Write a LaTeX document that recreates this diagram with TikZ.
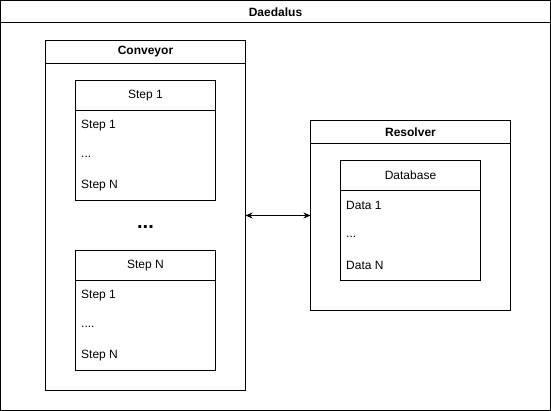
\documentclass[tikz,border=0pt]{standalone}
\usepackage{fontspec}
\setmainfont{Liberation Sans}
\usetikzlibrary{arrows.meta}
\begin{document}
\begin{tikzpicture}[x=1pt,y=-1pt,
  box/.style={draw, line width=1pt, rectangle, anchor=north west, inner sep=0pt, outer sep=0pt},
  sep/.style={line width=1pt},
  title/.style={font=\bfseries\fontsize{12}{14}\selectfont},
  head/.style={font=\fontsize{12}{14}\selectfont},
  item/.style={font=\fontsize{12}{14}\selectfont, anchor=west, inner sep=0pt},
  link/.style={line width=1pt, {Stealth[length=7pt,width=6pt]}-{Stealth[length=7pt,width=6pt]}}]
\useasboundingbox (0,0) rectangle (551,411);
% outer
\node[box, minimum width=550pt, minimum height=410pt] (daedalus) at (0.5,0.5) {};
\draw[sep] (0.5,23) coordinate (dl) -- (550.5,23) coordinate (dr);
\node[title] (tdaedalus) at (275.5,12) {Daedalus};
% conveyor
\node[box, minimum width=200pt, minimum height=350pt] (conveyor) at (45.5,40.5) {};
\draw[sep] (45.5,63.5) coordinate (cl) -- (245.5,63.5) coordinate (cr);
\node[title] (tconveyor) at (145.5,52) {Conveyor};
% step 1
\node[box, minimum width=140pt, minimum height=120pt] (step1) at (75.5,80.5) {};
\draw[sep] (75.5,110.5) coordinate (s1l) -- (215.5,110.5) coordinate (s1r);
\node[head] (tstep1) at (145.5,95.5) {Step 1};
\node[item] (s1a) at (81,125.5) {Step 1};
\node[item] (s1b) at (81,157) {...};
\node[item] (s1c) at (81,185.5) {Step N};
% ellipsis
\node[font=\bfseries\fontsize{20}{22}\selectfont] (dots) at (145.5,227) {...};
% step N
\node[box, minimum width=140pt, minimum height=120pt] (stepn) at (75.5,250.5) {};
\draw[sep] (75.5,280.5) coordinate (snl) -- (215.5,280.5) coordinate (snr);
\node[head] (tstepn) at (145.5,265.5) {Step N};
\node[item] (sna) at (81,295.5) {Step 1};
\node[item] (snb) at (81,327) {....};
\node[item] (snc) at (81,355.5) {Step N};
% resolver
\node[box, minimum width=200pt, minimum height=190pt] (resolver) at (310.5,120.5) {};
\draw[sep] (310.5,143.5) coordinate (rl) -- (510.5,143.5) coordinate (rr);
\node[title] (tresolver) at (410.5,132) {Resolver};
% database
\node[box, minimum width=140pt, minimum height=120pt] (database) at (340.5,160.5) {};
\draw[sep] (340.5,190.5) coordinate (dbl) -- (480.5,190.5) coordinate (dbr);
\node[head] (tdatabase) at (410.5,175.5) {Database};
\node[item] (da) at (346,205.5) {Data 1};
\node[item] (db) at (346,237) {...};
\node[item] (dc) at (346,265.5) {Data N};
% link
\draw[link] (conveyor.east) -- (resolver.west);
\end{tikzpicture}
\end{document}
